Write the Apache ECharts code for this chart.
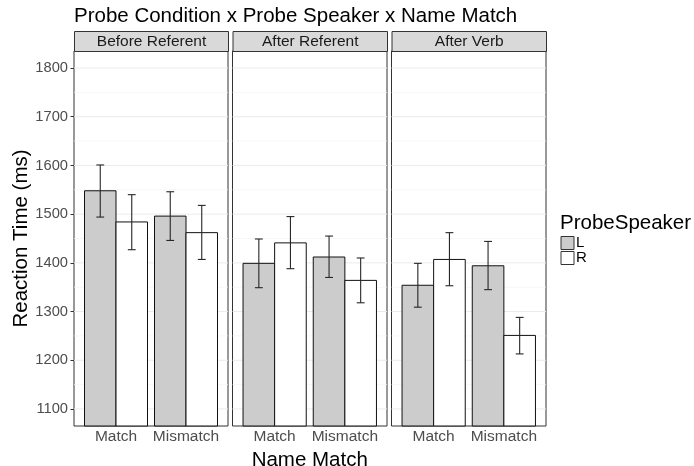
<!DOCTYPE html>
<html>
<head>
<meta charset="utf-8">
<script src="https://cdn.jsdelivr.net/npm/echarts@6/dist/echarts.min.js"></script>
<style>
html,body{margin:0;padding:0;background:#fff;}
#chart{width:694px;height:466px;}
</style>
</head>
<body>
<div id="chart"></div>
<script>
// ---- data ----
const facets = ['Before Referent', 'After Referent', 'After Verb'];
const nameMatch = ['Match', 'Mismatch'];
const speakers = ['L', 'R'];
// mean reaction time, facet-major order: [BR-Match, BR-Mismatch, AR-Match, AR-Mismatch, AV-Match, AV-Mismatch]
const rtL = [1548, 1496, 1399, 1412, 1354, 1394];
const rtR = [1484, 1462, 1441, 1364, 1407, 1251];
const upperL = [1601, 1546, 1449, 1455, 1399, 1444];
const lowerL = [1494, 1446, 1349, 1370, 1309, 1345];
const upperR = [1540, 1518, 1495, 1410, 1462, 1288];
const lowerR = [1427, 1407, 1388, 1318, 1353, 1213];
const yTicks = [1100, 1200, 1300, 1400, 1500, 1600, 1700, 1800];
const yMinor = [1150, 1250, 1350, 1450, 1550, 1650, 1750];

// ---- style / layout ----
const FONT = '"Liberation Sans", Arial, Helvetica, sans-serif';
const fillL = '#cccccc', fillR = '#ffffff';
const yMin = 1065, yMax = 1835;
const xMin = 0.4, xMax = 2.6;
const dodge = 0.225, halfBar = 0.225, halfWhisker = 0.056;
const gridsPx = [
  {left: 74, width: 154},
  {left: 232.5, width: 154.5},
  {left: 391.5, width: 154.5}
];
const gridTop = 51, gridBottomY = 426;

function barRender(offset, fill) {
  return function (params, api) {
    const x = api.value(0), v = api.value(1);
    const p0 = api.coord([x + offset - halfBar, v]);
    const p1 = api.coord([x + offset + halfBar, v]);
    const bottom = params.coordSys.y + params.coordSys.height;
    return {
      type: 'rect',
      shape: {x: p0[0], y: p0[1], width: p1[0] - p0[0], height: bottom - p0[1]},
      style: {fill: fill, stroke: '#111111', lineWidth: 1}
    };
  };
}
function errRender(offset) {
  return function (params, api) {
    const x = api.value(0) + offset;
    const lo = api.coord([x, api.value(1)]);
    const hi = api.coord([x, api.value(2)]);
    const l1 = api.coord([x - halfWhisker, api.value(1)]);
    const r1 = api.coord([x + halfWhisker, api.value(1)]);
    const l2 = api.coord([x - halfWhisker, api.value(2)]);
    const r2 = api.coord([x + halfWhisker, api.value(2)]);
    const st = {stroke: '#262626', lineWidth: 1.1};
    return {
      type: 'group',
      children: [
        {type: 'line', shape: {x1: lo[0], y1: lo[1], x2: hi[0], y2: hi[1]}, style: st},
        {type: 'line', shape: {x1: l1[0], y1: l1[1], x2: r1[0], y2: r1[1]}, style: st},
        {type: 'line', shape: {x1: l2[0], y1: l2[1], x2: r2[0], y2: r2[1]}, style: st}
      ]
    };
  };
}
function gridLineRender(color, width) {
  return function (params, api) {
    const v = api.value(0);
    const a = api.coord([xMin, v]);
    const b = api.coord([xMax, v]);
    return {type: 'line', shape: {x1: a[0], y1: a[1], x2: b[0], y2: b[1]}, style: {stroke: color, lineWidth: width}};
  };
}

const grid = [], xAxis = [], yAxis = [], series = [], graphic = [];
facets.forEach(function (f, i) {
  const g = gridsPx[i];
  grid.push({left: g.left, width: g.width, top: gridTop, height: gridBottomY - gridTop,
    outerBoundsMode: 'none', containLabel: false,
    show: true, borderColor: '#333333', borderWidth: 1, backgroundColor: 'transparent'});
  xAxis.push({
    type: 'value', gridIndex: i, min: xMin, max: xMax,
    axisLine: {show: false}, axisTick: {show: false}, splitLine: {show: false},
    axisLabel: {
      customValues: [1, 2], margin: 3, fontSize: 15.5, color: '#4d4d4d', fontFamily: FONT,
      formatter: function (v) { return nameMatch[Math.round(v) - 1] || ''; }
    },
    name: i === 1 ? 'Name Match' : '', nameLocation: 'middle', nameGap: 18,
    nameTextStyle: {fontSize: 20.5, color: '#000', fontFamily: FONT}
  });
  yAxis.push({
    type: 'value', gridIndex: i, min: yMin, max: yMax,
    axisLine: {show: false}, splitLine: {show: false},
    axisTick: {show: i === 0, customValues: yTicks, length: 3.5, lineStyle: {color: '#333333'}},
    axisLabel: {show: i === 0, customValues: yTicks, margin: 6, fontSize: 14.7, color: '#4d4d4d', fontFamily: FONT,
      formatter: function (v) { return String(v); }},
    name: i === 0 ? 'Reaction Time (ms)' : '', nameLocation: 'middle', nameGap: 38,
    nameTextStyle: {fontSize: 20.5, color: '#000', fontFamily: FONT}
  });
  series.push({
    type: 'custom', xAxisIndex: i, yAxisIndex: i, z: 1, silent: true,
    renderItem: gridLineRender('#f3f3f3', 0.7), data: yMinor.map(function (v) { return [v]; })
  });
  series.push({
    type: 'custom', xAxisIndex: i, yAxisIndex: i, z: 1, silent: true,
    renderItem: gridLineRender('#ebebeb', 1), data: yTicks.map(function (v) { return [v]; })
  });
  series.push({
    name: 'L', type: 'custom', xAxisIndex: i, yAxisIndex: i, z: 2,
    itemStyle: {color: fillL, borderColor: '#333', borderWidth: 1},
    renderItem: barRender(-dodge, fillL),
    data: [[1, rtL[2 * i]], [2, rtL[2 * i + 1]]]
  });
  series.push({
    name: 'R', type: 'custom', xAxisIndex: i, yAxisIndex: i, z: 2,
    itemStyle: {color: fillR, borderColor: '#333', borderWidth: 1},
    renderItem: barRender(dodge, fillR),
    data: [[1, rtR[2 * i]], [2, rtR[2 * i + 1]]]
  });
  series.push({
    type: 'custom', xAxisIndex: i, yAxisIndex: i, z: 3, silent: true,
    renderItem: errRender(-dodge),
    data: [[1, lowerL[2 * i], upperL[2 * i]], [2, lowerL[2 * i + 1], upperL[2 * i + 1]]]
  });
  series.push({
    type: 'custom', xAxisIndex: i, yAxisIndex: i, z: 3, silent: true,
    renderItem: errRender(dodge),
    data: [[1, lowerR[2 * i], upperR[2 * i]], [2, lowerR[2 * i + 1], upperR[2 * i + 1]]]
  });
  // facet strip
  graphic.push({
    type: 'group', left: g.left, top: 31,
    children: [
      {type: 'rect', shape: {x: 0, y: 0, width: g.width, height: 20},
        style: {fill: '#d9d9d9', stroke: '#333333', lineWidth: 1}},
      {type: 'text', x: g.width / 2, y: 10.5,
        style: {text: f, fill: '#1a1a1a', font: '15.5px ' + FONT, align: 'center', verticalAlign: 'middle'}}
    ]
  });
});

const chart = echarts.init(document.getElementById('chart'), null, {renderer: 'canvas'});
chart.setOption({
  animation: false,
  backgroundColor: '#ffffff',
  title: [
    {text: 'Probe Condition x Probe Speaker x Name Match', left: 74, top: 6, padding: 0,
      textStyle: {fontSize: 20.5, fontWeight: 'normal', color: '#000', fontFamily: FONT}},
    {text: 'ProbeSpeaker', left: 560, top: 213, padding: 0,
      textStyle: {fontSize: 20.5, fontWeight: 'normal', color: '#000', fontFamily: FONT}}
  ],
  legend: {
    orient: 'vertical', left: 560.5, top: 235.5, padding: 0, itemGap: 0,
    itemWidth: 13, itemHeight: 13, icon: 'rect',
    selectedMode: false,
    textStyle: {fontSize: 15, color: '#000', fontFamily: FONT, lineHeight: 13, padding: [0, 0, 0, -3]},
    data: [
      {name: speakers[0], itemStyle: {color: fillL, borderColor: '#333', borderWidth: 1}},
      {name: speakers[1], itemStyle: {color: fillR, borderColor: '#333', borderWidth: 1}}
    ]
  },
  grid: grid,
  xAxis: xAxis,
  yAxis: yAxis,
  series: series,
  graphic: graphic
});
</script>
</body>
</html>
